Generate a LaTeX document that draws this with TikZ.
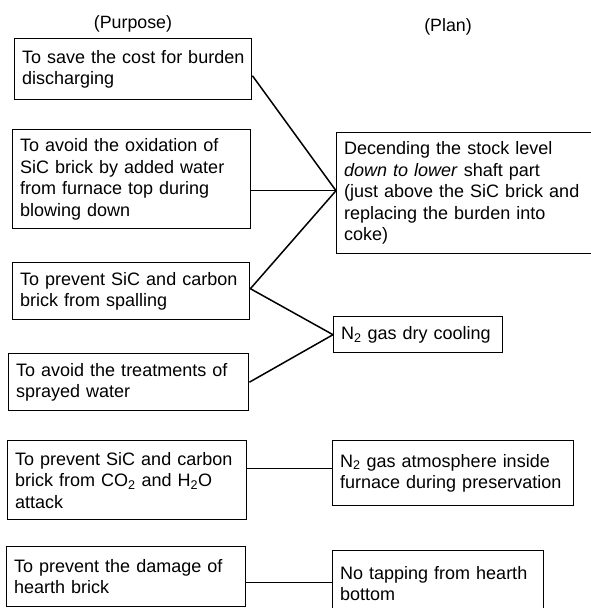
\documentclass[tikz,border=0pt]{standalone}
\usepackage{fontspec}
\setmainfont{Liberation Sans}
\usetikzlibrary{calc}
\begin{document}
\begin{tikzpicture}[x=1pt,y=-1pt,
  box/.style={draw,line width=1.4pt,rectangle,anchor=north west,inner xsep=7.5pt,inner ysep=0pt,
    align=left,font=\fontsize{18}{21.5}\selectfont},
  hdr/.style={font=\fontsize{17.8}{21.5}\selectfont,inner sep=0pt},
  link/.style={line width=1.5pt}]
\useasboundingbox (0,0) rectangle (590,608);
\node[hdr] (hp) at (133,24) {(Purpose)};
\node[hdr] (hn) at (448,27) {(Plan)};
% purposes
\node[box,minimum width=237pt,minimum height=61pt,text width=222pt] (p1) at (14,38)
  {\mbox{To save the cost for burden}\\discharging};
\node[box,minimum width=238pt,minimum height=99pt,text width=223pt] (p2) at (12,129)
  {To avoid the oxidation of\\SiC brick by added water\\from furnace top during\\blowing down};
\node[box,minimum width=237pt,minimum height=57pt,text width=222pt] (p3) at (12,262)
  {\mbox{To prevent SiC and carbon}\\brick from spalling};
\node[box,minimum width=240pt,minimum height=57pt,text width=225pt] (p4) at (8,353)
  {To avoid the treatments of\\sprayed water};
\node[box,minimum width=239pt,minimum height=79pt,text width=224pt] (p5) at (7,440)
  {\mbox{To prevent SiC and carbon}\\brick from CO\textsubscript{2} and H\textsubscript{2}O\\attack};
\node[box,minimum width=239pt,minimum height=60pt,text width=224pt] (p6) at (6,546)
  {To prevent the damage of\\hearth brick};
% plans
\node[box,minimum width=268pt,minimum height=121pt,text width=253pt] (q1) at (336,132)
  {Decending the stock level\\\textit{down to lower} shaft part\\\mbox{(just above the SiC brick and}\\replacing the burden into\\coke)};
\node[box,minimum width=169pt,minimum height=36pt,text width=154pt] (q2) at (333,316)
  {N\textsubscript{2} gas dry cooling};
\node[box,minimum width=241pt,minimum height=65pt,text width=226pt] (q3) at (332,440)
  {N\textsubscript{2} gas atmosphere inside\\\mbox{furnace during preservation}};
\node[box,minimum width=211pt,minimum height=66pt,text width=196pt,yshift=-2pt] (q4) at (332,548)
  {No tapping from hearth\\bottom};
% connectors
\coordinate (j1) at ([yshift=2.5pt]q1.west);
\coordinate (s1) at ([yshift=-6.5pt]p1.east);
\coordinate (s3) at ([yshift=2.5pt]p3.east);
\coordinate (s5) at ([yshift=11.5pt]p5.east);
\coordinate (s6) at ([yshift=-6pt]p6.east);
\draw[link] (s1) -- (j1);
\draw[link] (p2.east |- j1) -- (j1);
\draw[link] (s3) -- (j1);
\draw[link] (s3) -- (q2.west);
\draw[link] (p4.east) -- (q2.west);
\draw[link] (s5) -- (q3.west |- s5);
\draw[link] (s6) -- (q4.west |- s6);
\end{tikzpicture}
\end{document}
